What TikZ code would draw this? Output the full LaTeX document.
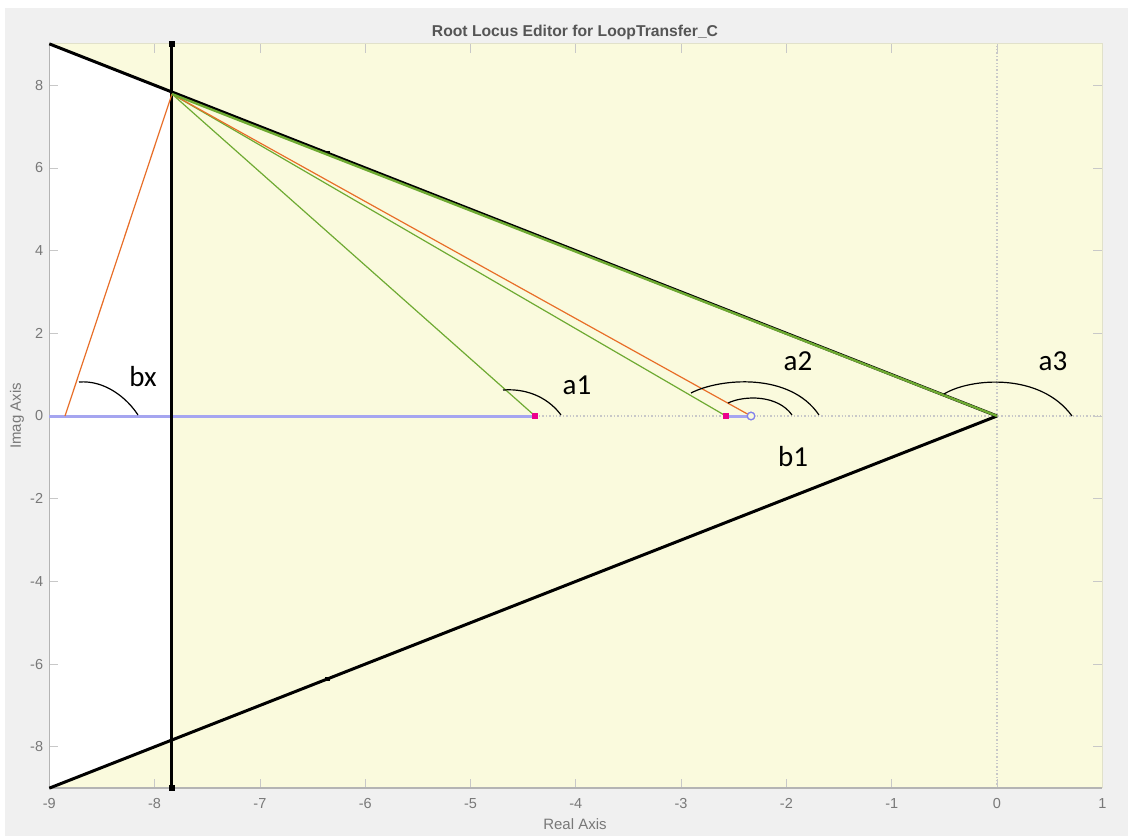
\documentclass[tikz,border=0pt]{standalone}
\usepackage{fontspec}
\setmainfont{Liberation Sans}
\newfontfamily\calib{Carlito}
\definecolor{bgg}{RGB}{240,240,240}
\definecolor{plotyel}{RGB}{250,250,221}
\definecolor{axc}{RGB}{180,180,180}
\definecolor{tickc}{RGB}{200,200,200}
\definecolor{labc}{RGB}{120,120,120}
\definecolor{titc}{RGB}{85,85,85}
\definecolor{mlorange}{RGB}{232,110,40}
\definecolor{mlgreen}{RGB}{110,170,50}
\definecolor{locusblue}{RGB}{165,165,240}
\definecolor{zeroblue}{RGB}{130,130,235}
\definecolor{gridc}{RGB}{200,200,200}
\tikzset{
  ticklab/.style={text=labc,font=\fontsize{14.5}{16}\selectfont,inner sep=0pt},
  bound/.style={black,line width=3pt},
  rlorange/.style={mlorange,line width=1.2pt},
  rlgreen/.style={mlgreen,line width=1.2pt},
  locus/.style={locusblue,line width=3pt},
  pole/.style={rectangle,fill=magenta,minimum size=6.5pt,inner sep=0pt},
  zeromark/.style={circle,draw=zeroblue,line width=1.2pt,fill=plotyel,minimum size=7.5pt,inner sep=0pt},
  endsq/.style={rectangle,fill=black,minimum size=6pt,inner sep=0pt},
  midsq/.style={rectangle,fill=black,minimum size=4.5pt,inner sep=0pt},
  anglearc/.style={black,line width=1.2pt},
  anglelab/.style={font=\calib\fontsize{29}{32}\selectfont,inner sep=0pt},
  gridl/.style={gridc,line width=1.4pt,dotted}
}
\begin{document}
\begin{tikzpicture}[x=1pt,y=1pt]
\useasboundingbox (0,0) rectangle (1128,-836);
\fill[white] (0,0) rectangle (1128,-836);
\fill[bgg] (5,-8) rectangle (1128,-836);
\fill[plotyel] (49,-44) rectangle (1102,-789);
\begin{scope}[shift={(997pt,-416pt)},x=105.3pt,y=41.35pt]
  \fill[white] (-9,9) -- (-7.835,7.835) -- (-7.835,-7.835) -- (-9,-9) -- cycle;
  % grid
  \draw[gridl] (-9,0) -- (1,0);
  \draw[gridl] (0,-9) -- (0,9);
  % ticks
  \foreach \x in {-8,...,0} {
    \draw[tickc,line width=0.8pt] (\x,-9) -- ++(0pt,9pt);
    \draw[tickc,line width=0.8pt] (\x,9) -- ++(0pt,-9pt);
  }
  \foreach \y in {-8,-6,...,8} {
    \draw[tickc,line width=0.8pt] (-9,\y) -- ++(9pt,0pt);
    \draw[tickc,line width=0.8pt] (1,\y) -- ++(-9pt,0pt);
  }
  % frame
  \draw[plotyel!80!gray,line width=1pt] (-9,9) -- (1,9) -- (1,-9);
  \draw[axc,line width=1.6pt] (-9,9) -- (-9,-9) -- (1,-9);
  % tick labels
  \foreach \x in {-9,...,1} {
    \node[ticklab,anchor=north] (xl\x) at ([yshift=-10pt]\x,-9) {\x};
  }
  \foreach \y in {-8,-6,...,8} {
    \node[ticklab,anchor=east] (yl\y) at ([xshift=-6pt]-9,\y) {\y};
  }
  % key points
  \coordinate (TL) at (-9,9);
  \coordinate (BL) at (-9,-9);
  \coordinate (O) at (0,0);
  \coordinate (L0) at (-9,0);
  \coordinate (P) at (-7.835,7.787);
  \coordinate (F) at (-8.851,0);
  \node[endsq] (vt) at (-7.835,9) {};
  \node[endsq] (vb) at (-7.835,-9) {};
  % locus
  \node[pole] (p1) at (-4.387,0) {};
  \node[pole] (p2) at (-2.574,0) {};
  \node[zeromark] (z) at (-2.336,0) {};
  \draw[locus] (L0) -- (p1.center);
  \draw[locus] (p2.center) -- (z.west);
  % bounds
  \draw[bound] (TL) -- (O);
  \draw[bound] (BL) -- (O);
  \draw[bound] (vt.center) -- (vb.center);
  \node[endsq] at (vt) {};
  \node[endsq] at (vb) {};
  \node[midsq] (m1) at (-6.36,6.36) {};
  \node[midsq] (m2) at (-6.36,-6.36) {};
  % lines from P
  \draw[rlorange] (P) -- (F);
  \draw[rlgreen] (P) -- (p1.center);
  \draw[rlgreen] (P) -- (p2.center);
  \draw[rlorange] (P) -- (z.center);
  \draw[mlgreen,line width=2.4pt] (P) -- (O);
  \node[zeromark] at (z) {};
  \node[pole] at (p1) {};
  \node[pole] at (p2) {};
\end{scope}
% angle arcs
\draw[anglearc] (79,-382) .. controls (105,-380) and (127,-398) .. (138,-415);
\draw[anglearc] (503,-390) .. controls (530,-388) and (550,-400) .. (561,-415);
\draw[anglearc] (691,-393) .. controls (720,-378) and (790,-372) .. (819,-415);
\draw[anglearc] (728,-403) .. controls (745,-395) and (778,-395) .. (792,-415);
\draw[anglearc] (944,-394) .. controls (970,-378) and (1040,-372) .. (1072,-416);
% angle labels
\node[anglelab] (lbx) at (143,-377) {bx};
\node[anglelab] (la1) at (577,-385) {a1};
\node[anglelab] (la2) at (798,-361) {a2};
\node[anglelab] (la3) at (1053,-361) {a3};
\node[anglelab] (lb1) at (793,-457) {b1};
% titles
\node[text=titc,font=\bfseries\fontsize{15.7}{18}\selectfont] (title) at (575,-32) {Root Locus Editor for LoopTransfer\_C};
\node[text=labc,font=\fontsize{15}{17}\selectfont] (xlab) at (575,-824) {Real Axis};
\node[text=labc,font=\fontsize{15}{17}\selectfont,rotate=90] (ylab) at (17,-416) {Imag Axis};
\end{tikzpicture}
\end{document}
